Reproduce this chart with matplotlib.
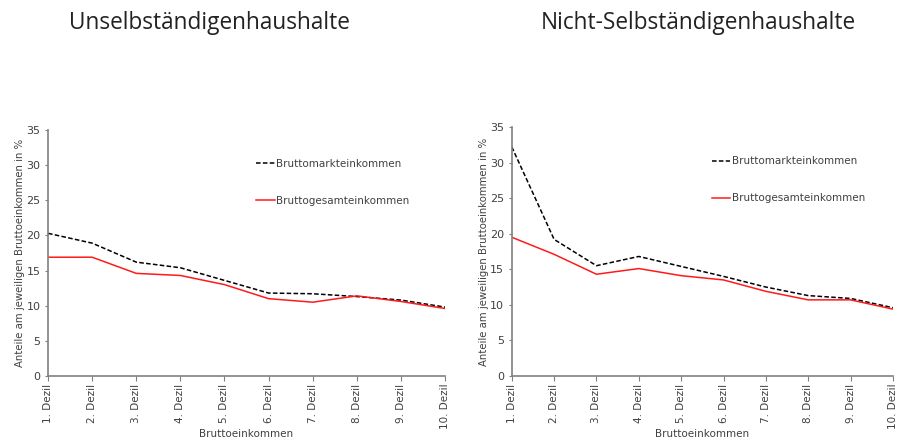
import matplotlib
matplotlib.use("Agg")
import matplotlib.pyplot as plt

categories = ["1. Dezil", "2. Dezil", "3. Dezil", "4. Dezil", "5. Dezil",
              "6. Dezil", "7. Dezil", "8. Dezil", "9. Dezil", "10. Dezil"]

# Unselbständigenhaushalte
left_markt = [20.3, 18.9, 16.2, 15.4, 13.6, 11.8, 11.7, 11.3, 10.8, 9.8]
left_gesamt = [16.9, 16.9, 14.6, 14.3, 13.0, 11.0, 10.5, 11.4, 10.6, 9.6]

# Nicht-Selbständigenhaushalte
right_markt = [32.2, 19.2, 15.5, 16.8, 15.4, 14.0, 12.5, 11.3, 10.9, 9.6]
right_gesamt = [19.5, 17.1, 14.3, 15.1, 14.1, 13.5, 11.9, 10.7, 10.7, 9.4]

titles = ["Unselbständigenhaushalte", "Nicht-Selbständigenhaushalte"]
yticks = [0, 5, 10, 15, 20, 25, 30, 35]

plt.rcParams['font.family'] = ['DejaVu Sans']

fig = plt.figure(figsize=(9.01, 4.38), dpi=100)
ax1 = fig.add_axes([0.0533, 0.1416, 0.4407, 0.5616])
ax2 = fig.add_axes([0.568, 0.1416, 0.423, 0.5685])

grey = "#808080"
txt = "#404040"
x = list(range(len(categories)))

for ax, markt, gesamt in [(ax1, left_markt, left_gesamt), (ax2, right_markt, right_gesamt)]:
    ax.plot(x, markt, color="black", linestyle=(0, (3, 1.5)), linewidth=1.1, label="Bruttomarkteinkommen")
    ax.plot(x, gesamt, color="#ff1a1a", linewidth=1.1, label="Bruttogesamteinkommen")
    ax.set_xlim(0, 9)
    ax.set_ylim(0, 35)
    ax.set_yticks(yticks)
    ax.set_xticks(x)
    ax.set_xticklabels(categories, rotation=90, fontsize=7.5, color=txt)
    ax.tick_params(axis="y", labelsize=8, colors=txt, length=2.5, color=grey, pad=3)
    ax.tick_params(axis="x", length=3.5, color=grey, pad=2)
    for s in ["top", "right"]:
        ax.spines[s].set_visible(False)
    for s in ["left", "bottom"]:
        ax.spines[s].set_color(grey)
        ax.spines[s].set_linewidth(1.2)
    ax.set_xlabel("Bruttoeinkommen", fontsize=7.5, color=txt, labelpad=0)
    ax.set_ylabel("Anteile am jeweiligen Bruttoeinkommen in %", fontsize=7.3, color=txt, labelpad=1)
    leg = ax.legend(loc="upper left", bbox_to_anchor=(0.5, 0.92), frameon=False, fontsize=7.5,
                    handlelength=1.8, handletextpad=0.15, labelspacing=2.6)
    for t in leg.get_texts():
        t.set_color(txt)

fig.text(0.233, 0.947, titles[0], ha="center", va="center", fontsize=16.3, color="#222222",
         family=["Open Sans", "DejaVu Sans"])
fig.text(0.775, 0.947, titles[1], ha="center", va="center", fontsize=16.3, color="#222222",
         family=["Open Sans", "DejaVu Sans"])

fig.savefig("out.png", dpi=100)
